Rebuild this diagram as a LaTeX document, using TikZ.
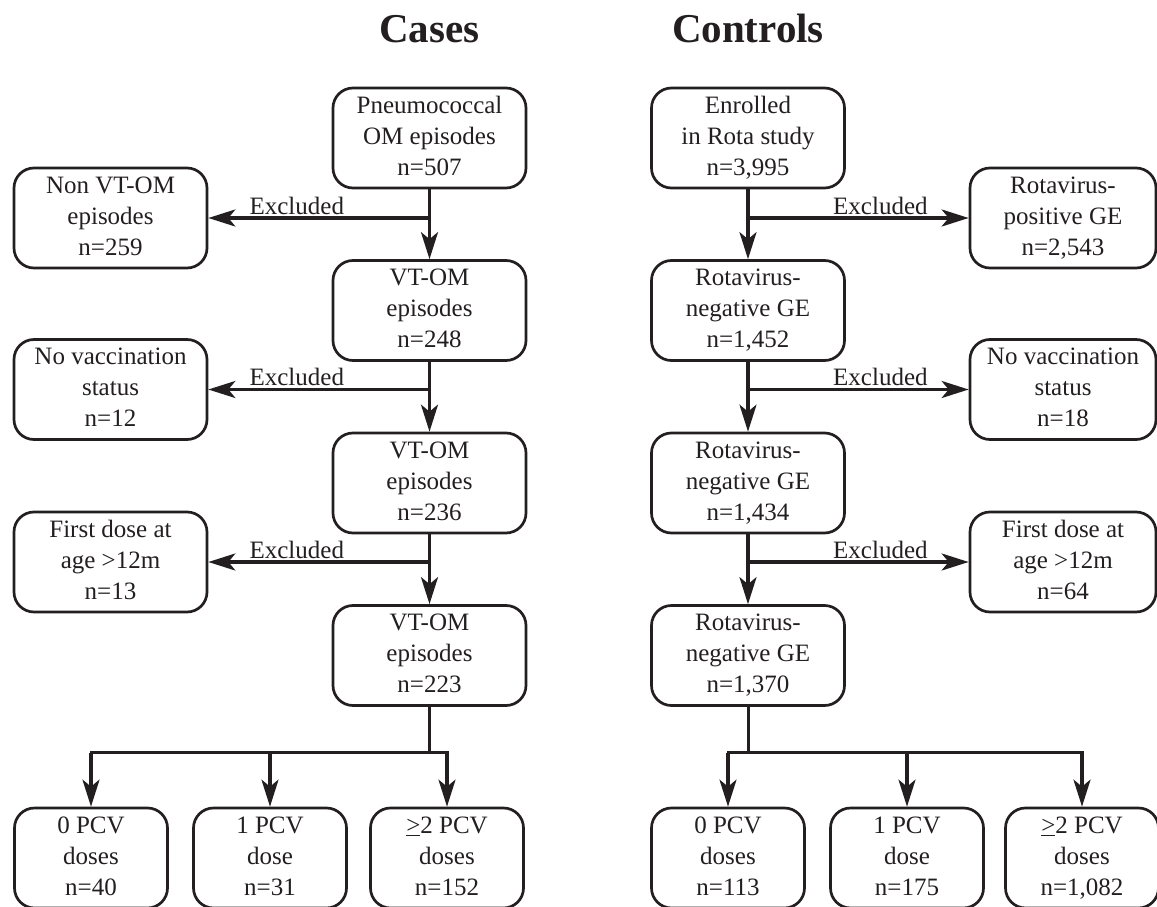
\documentclass[tikz,border=0pt]{standalone}
\usepackage{fontspec}
\setmainfont{Liberation Serif}
\usetikzlibrary{arrows.meta}
\definecolor{ink}{RGB}{35,31,32}
\tikzset{
  box/.style={draw=ink, text=ink, line width=2.7pt, rounded corners=20pt, align=center,
    minimum width=193pt, minimum height=100pt, inner sep=2pt, font=\fontsize{25}{31}\selectfont,
    execute at end node={\vphantom{,}}},
  dosebox/.style={box, minimum width=153pt},
  arr/.style={draw=ink, line width=3.2pt, -{Stealth[length=27pt,width=17pt,inset=7pt]}},
  link/.style={draw=ink, line width=3pt, line cap=rect},
  excl/.style={pos=0.6, above=2pt, inner sep=0pt, text=ink, font=\fontsize{25}{31}\selectfont},
  heading/.style={anchor=base, text=ink, font=\fontsize{41}{48}\selectfont\bfseries}
}
\begin{document}
\begin{tikzpicture}[x=1pt,y=-1pt]
\useasboundingbox (0,0) rectangle (1157,907);

\begin{scope}[shift={(429.5,0)}]
\node[heading] (tcases) at (0,43) {Cases};
\node[box] (c1) at (0,138)   {Pneumococcal\\OM episodes\\n=507};
\node[box] (c2) at (0,310.5) {VT-OM\\episodes\\n=248};
\node[box] (c3) at (0,483)   {VT-OM\\episodes\\n=236};
\node[box] (c4) at (0,655.5) {VT-OM\\episodes\\n=223};
\node[box] (cx1) at (-319,218)   {Non VT-OM\\episodes\\n=259};
\node[box] (cx2) at (-319,389.5) {No vaccination\\status\\n=12};
\node[box] (cx3) at (-319,562)   {First dose at\\age >12m\\n=13};
\node[dosebox] (cd0) at (-338.5,858) {0 PCV\\doses\\n=40};
\node[dosebox] (cd1) at (-159.5,858) {1 PCV\\dose\\n=31};
\node[dosebox] (cd2) at (17.5,858)   {\underline{>}2 PCV\\doses\\n=152};
\end{scope}

\begin{scope}[shift={(748,0)}]
\node[heading] (tcontrols) at (0,43) {Controls};
\node[box] (k1) at (0,138)   {Enrolled\\in Rota study\\n=3,995};
\node[box] (k2) at (0,310.5) {Rotavirus-\\negative GE\\n=1,452};
\node[box] (k3) at (0,483)   {Rotavirus-\\negative GE\\n=1,434};
\node[box] (k4) at (0,655.5) {Rotavirus-\\negative GE\\n=1,370};
\node[box,minimum width=186pt] (kx1) at (315,218)   {Rotavirus-\\positive GE\\n=2,543};
\node[box,minimum width=186pt] (kx2) at (315,389.5) {No vaccination\\status\\n=18};
\node[box,minimum width=186pt] (kx3) at (315,562)   {First dose at\\age >12m\\n=64};
\node[dosebox] (kd0) at (-20,858)  {0 PCV\\doses\\n=113};
\node[dosebox] (kd1) at (159,858)  {1 PCV\\dose\\n=175};
\node[dosebox] (kd2) at (334,858)  {\underline{>}2 PCV\\doses\\n=1,082};
\end{scope}

\draw[arr] (c1) -- (c2);
\draw[arr] (c2) -- (c3);
\draw[arr] (c3) -- (c4);
\draw[arr] (c1.south |- cx1.east) -- node[excl] {Excluded} (cx1.east);
\draw[arr] (c2.south |- cx2.east) -- node[excl] {Excluded} (cx2.east);
\draw[arr] (c3.south |- cx3.east) -- node[excl] {Excluded} (cx3.east);
\coordinate (cj) at ([yshift=-46pt]c4.south);
\draw[link] (c4) -- (cj);
\draw[link] (cd0.north |- cj) -- (cd2.north |- cj);
\foreach \d in {cd0,cd1,cd2} \draw[arr] (\d.north |- cj) -- (\d.north);

\draw[arr] (k1) -- (k2);
\draw[arr] (k2) -- (k3);
\draw[arr] (k3) -- (k4);
\draw[arr] (k1.south |- kx1.west) -- node[excl] {Excluded} (kx1.west);
\draw[arr] (k2.south |- kx2.west) -- node[excl] {Excluded} (kx2.west);
\draw[arr] (k3.south |- kx3.west) -- node[excl] {Excluded} (kx3.west);
\coordinate (kj) at ([yshift=-46pt]k4.south);
\draw[link] (k4) -- (kj);
\draw[link] (kd0.north |- kj) -- (kd2.north |- kj);
\foreach \d in {kd0,kd1,kd2} \draw[arr] (\d.north |- kj) -- (\d.north);
\end{tikzpicture}
\end{document}
